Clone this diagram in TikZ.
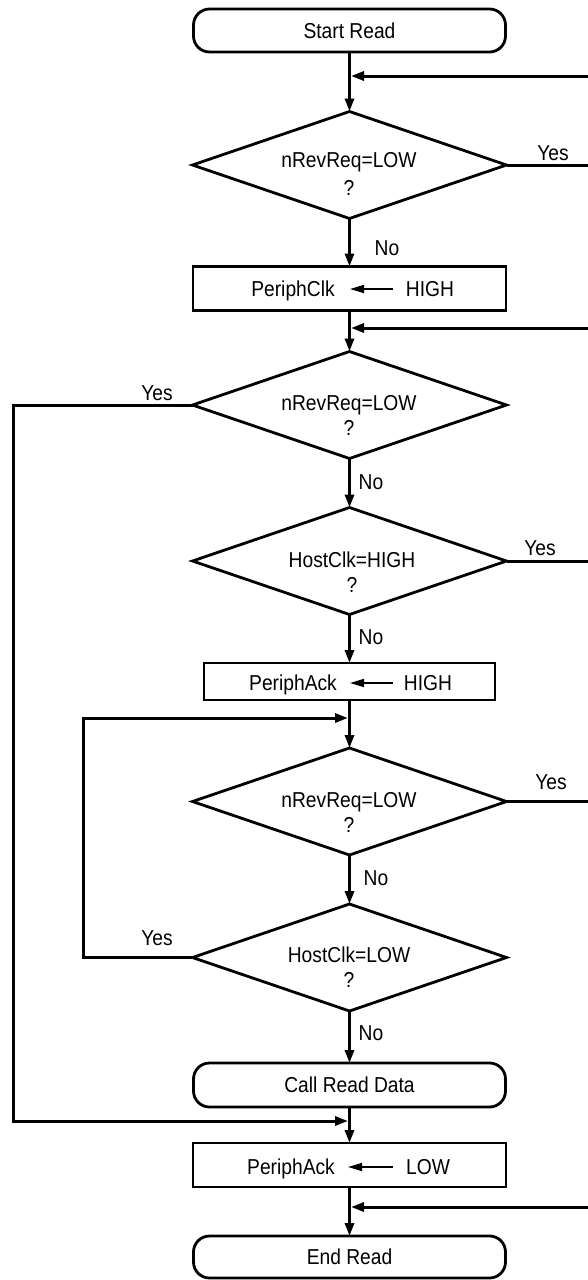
\documentclass[tikz,border=0pt]{standalone}
\usepackage{fontspec}
\setmainfont[FakeStretch=0.89]{Liberation Sans}
\usetikzlibrary{shapes.geometric,arrows.meta}
\begin{document}
\begin{tikzpicture}[x=0.5pt,y=-0.5pt,
  every node/.style={font=\fontsize{10.8pt}{12.5pt}\selectfont, inner sep=0pt, outer sep=0pt},
  shp/.style={draw, line width=1.4pt},
  txt/.style={text height=7.7pt, text depth=0pt},
  term/.style={shp, rectangle, rounded corners=8pt, minimum width=156pt, minimum height=21.5pt, txt},
  proc/.style={shp, rectangle, minimum width=156.5pt, minimum height=22pt},
  dec/.style={shp, diamond, minimum width=157pt, minimum height=53.5pt, aspect=3},
  dtxt/.style={align=center},
  conn/.style={line width=1.5pt},
  arr/.style={conn, -{Triangle[length=6.5pt,width=4.5pt]}},
  inarr/.style={line width=0.8pt, -{Triangle[length=7pt,width=4pt]}},
]
\useasboundingbox (0,0) rectangle (588,1280);

% main column
\node[term] (start) at (349.5,30.5) {Start Read};
\node[dec] (d1) at (349.5,165) {};
\node[dtxt] (d1t) at (349,174) {nRevReq=LOW\\[1.5pt]?};
\node[proc] (pclk) at (349.5,288.5) {};
\node[txt] (pclkA) at (293,289) {PeriphClk};
\node[txt] (pclkB) at (430,289) {HIGH};
\coordinate (pclkS) at (393,289);
\coordinate (pclkT) at (350,289);
\draw[inarr] (pclkS) -- (pclkT);

\node[dec] (d2) at (349.5,405) {};
\node[dtxt] (d2t) at (349,415.5) {nRevReq=LOW\\?};
\node[dec] (d3) at (349.5,561) {};
\node[dtxt] (d3t) at (352,572.5) {HostClk=HIGH\\?};

\node[proc, minimum width=145.5pt, minimum height=18.5pt] (pack1) at (349.5,681.5) {};
\node[txt] (pack1A) at (293,683) {PeriphAck};
\node[txt] (pack1B) at (428,683) {HIGH};
\coordinate (pack1S) at (393,683);
\coordinate (pack1T) at (350,683);
\draw[inarr] (pack1S) -- (pack1T);

\node[dec] (d4) at (349.5,801.5) {};
\node[dtxt] (d4t) at (349,812.5) {nRevReq=LOW\\?};
\node[dec] (d5) at (349.5,957.5) {};
\node[dtxt] (d5t) at (349,967.5) {HostClk=LOW\\?};

\node[term, minimum height=22pt] (crd) at (349.5,1085) {Call Read Data};
\node[proc] (pack2) at (349.5,1165) {};
\node[txt] (pack2A) at (291,1167) {PeriphAck};
\node[txt] (pack2B) at (428,1167) {LOW};
\coordinate (pack2S) at (393,1167);
\coordinate (pack2T) at (348,1167);
\draw[inarr] (pack2S) -- (pack2T);
\node[term, minimum height=21pt] (end) at (349.5,1257) {End Read};

% labels
\node[txt] (y1) at (553,153) {Yes};
\node[txt] (y2) at (157,393) {Yes};
\node[txt] (y3) at (540,548) {Yes};
\node[txt] (y4) at (551,782) {Yes};
\node[txt] (y5) at (157,938) {Yes};
\node[txt] (n1) at (387,248) {No};
\node[txt] (n2) at (371,482) {No};
\node[txt] (n3) at (371,637) {No};
\node[txt] (n4) at (376,878) {No};
\node[txt] (n5) at (371,1033) {No};

% coordinates for free ends
\coordinate (r1) at (592,76);   \coordinate (j1) at (351,76);
\coordinate (r2) at (592,328);  \coordinate (j2) at (351,328);
\coordinate (r6) at (592,1207); \coordinate (j6) at (351,1207);
\coordinate (e1) at (592,165);
\coordinate (e3) at (592,561);
\coordinate (e4) at (592,801.5);
\coordinate (l1) at (13,1121);  \coordinate (j5) at (348,1121);
\coordinate (l2) at (83,718);   \coordinate (j4) at (348,718);

% main flow
\draw[arr] (start.south) -- (d1.north);
\draw[arr] (d1.south) -- (pclk.north);
\draw[arr] (pclk.south) -- (d2.north);
\draw[arr] (d2.south) -- (d3.north);
\draw[arr] (d3.south) -- (pack1.north);
\draw[arr] (pack1.south) -- (d4.north);
\draw[arr] (d4.south) -- (d5.north);
\draw[arr] (d5.south) -- (crd.north);
\draw[arr] (crd.south) -- (pack2.north);
\draw[arr] (pack2.south) -- (end.north);

% incoming from right
\draw[arr] (r1) -- (j1);
\draw[arr] (r2) -- (j2);
\draw[arr] (r6) -- (j6);

% outgoing to right
\draw[conn] (d1.east) -- (e1);
\draw[conn] (d3.east) -- (e3);
\draw[conn] (d4.east) -- (e4);

% loops on the left
\draw[arr, line join=miter] (d2.west) -| (l1) -- (j5);
\draw[arr, line join=miter] (d5.west) -| (l2) -- (j4);
\end{tikzpicture}
\end{document}
